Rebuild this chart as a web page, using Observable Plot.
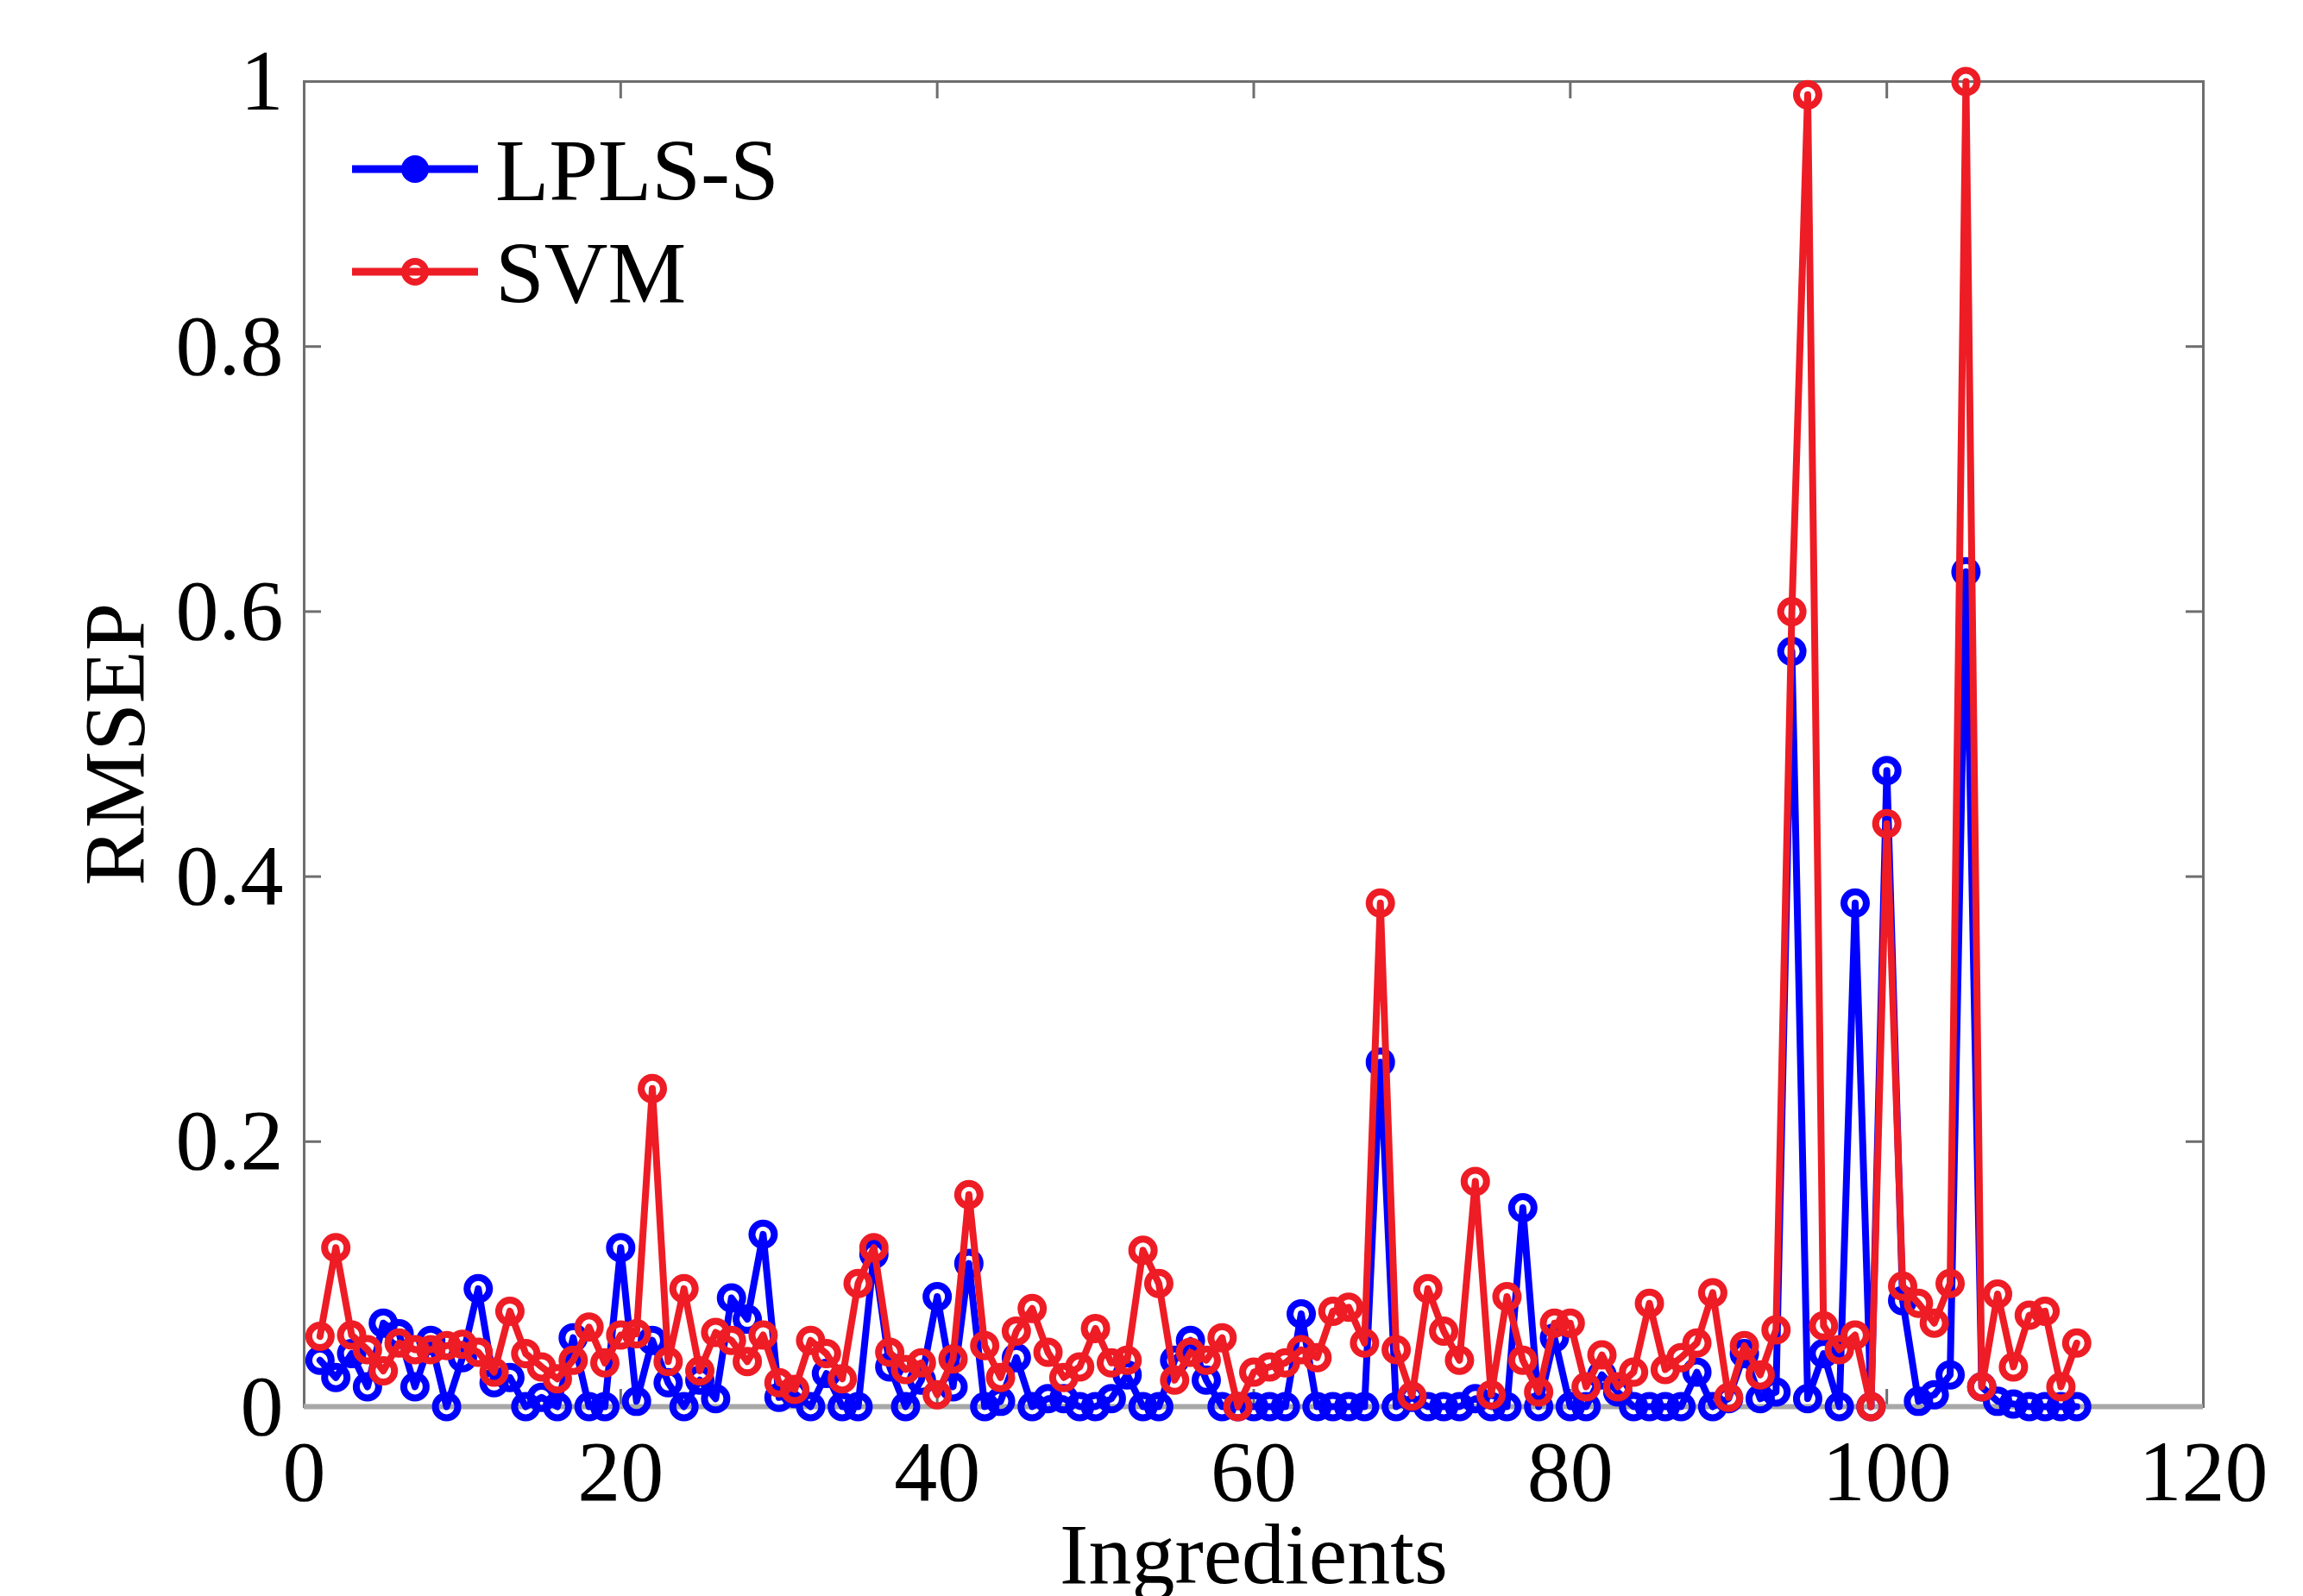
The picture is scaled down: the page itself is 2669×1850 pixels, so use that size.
<!DOCTYPE html>
<html><head><meta charset="utf-8">
<script src="https://cdn.jsdelivr.net/npm/d3@7"></script>
<script src="https://cdn.jsdelivr.net/npm/@observablehq/plot@0.6"></script>
<style>
html,body{margin:0;padding:0;background:#fff;}
#wrap{position:relative;width:2669px;height:1850px;overflow:hidden;background:#fff;}
#legend{position:absolute;left:0;top:0;}
</style></head><body><div id="wrap"></div>
<script>
const seriesNames = ["LPLS-S", "SVM"];
const seriesColors = ["#0000ff", "#ee1c25"];

const lplsS = [0.035,0.022,0.04,0.015,0.063,0.055,0.015,0.05,0.0,0.037,
  0.089,0.018,0.022,0.0,0.007,0.0,0.052,0.0,0.0,0.12,
  0.004,0.05,0.018,0.0,0.02,0.006,0.082,0.066,0.13,0.007,
  0.01,0.0,0.025,0.0,0.0,0.115,0.03,0.0,0.02,0.083,
  0.015,0.108,0.0,0.004,0.037,0.0,0.006,0.006,0.0,0.0,
  0.006,0.024,0.0,0.0,0.035,0.05,0.02,0.0,0.0,0.0,
  0.0,0.0,0.07,0.0,0.0,0.0,0.0,0.26,0.0,0.007,
  0.0,0.0,0.0,0.006,0.0,0.0,0.15,0.0,0.052,0.0,
  0.0,0.024,0.011,0.0,0.0,0.0,0.0,0.026,0.0,0.006,
  0.04,0.006,0.011,0.57,0.006,0.04,0.0,0.38,0.0,0.48,
  0.08,0.004,0.009,0.024,0.63,0.015,0.004,0.002,0.0,0.0,
  0.0,0.0];

const svm = [0.053,0.12,0.054,0.043,0.027,0.048,0.043,0.043,0.046,0.047,
  0.041,0.026,0.072,0.04,0.03,0.021,0.035,0.06,0.033,0.054,
  0.055,0.24,0.034,0.089,0.027,0.056,0.05,0.034,0.054,0.018,
  0.013,0.05,0.04,0.021,0.093,0.12,0.041,0.028,0.033,0.009,
  0.036,0.16,0.046,0.022,0.057,0.074,0.041,0.022,0.03,0.059,
  0.033,0.035,0.118,0.093,0.02,0.041,0.035,0.052,0.0,0.026,
  0.03,0.033,0.043,0.037,0.072,0.075,0.048,0.38,0.043,0.008,
  0.089,0.057,0.035,0.17,0.009,0.083,0.035,0.011,0.063,0.063,
  0.015,0.039,0.015,0.026,0.078,0.028,0.037,0.048,0.086,0.007,
  0.046,0.024,0.058,0.6,0.99,0.061,0.043,0.054,0.0,0.44,
  0.091,0.078,0.063,0.093,1.0,0.015,0.085,0.03,0.069,0.072,
  0.015,0.048];

const xTicks = [0, 20, 40, 60, 80, 100, 120];
const xTickLabels = ["0", "20", "40", "60", "80", "100", "120"];
const yTicks = [0, 0.2, 0.4, 0.6, 0.8, 1];
const yTickLabels = ["0", "0.2", "0.4", "0.6", "0.8", "1"];
const xLabel = "Ingredients";
const yLabel = "RMSEP";

const W = 2669, H = 1850, mL = 352, mR = 116, mT = 94, mB = 220;
const frameW = W - mL - mR, frameH = H - mT - mB;
const tickLen = 20;
const axisGray = "#6e6e6e";
const font = "'Liberation Serif','Times New Roman',serif";

const blueRows = lplsS.map((v, i) => ({series: seriesNames[0], x: i + 1, y: v}));
const redRows = svm.map((v, i) => ({series: seriesNames[1], x: i + 1, y: v}));

const chart = Plot.plot({
  width: W, height: H,
  marginLeft: mL, marginRight: mR, marginTop: mT, marginBottom: mB,
  style: {fontFamily: font, fontSize: "100px", color: "#000", background: "#fff"},
  x: {domain: [0, 120]},
  y: {domain: [0, 1]},
  color: {domain: seriesNames, range: seriesColors},
  marks: [
    Plot.frame({stroke: axisGray, strokeWidth: 3}),
    Plot.tickX(xTicks, {x: d => d, stroke: axisGray, strokeWidth: 3, insetTop: frameH - tickLen}),
    Plot.tickX(xTicks, {x: d => d, stroke: axisGray, strokeWidth: 3, insetBottom: frameH - tickLen}),
    Plot.tickY(yTicks, {y: d => d, stroke: axisGray, strokeWidth: 3, insetRight: frameW - tickLen}),
    Plot.tickY(yTicks, {y: d => d, stroke: axisGray, strokeWidth: 3, insetLeft: frameW - tickLen}),
    Plot.ruleY([0], {stroke: "#a8a8a8", strokeWidth: 6}),
    Plot.axisX({ticks: xTicks, tickFormat: d => xTickLabels[xTicks.indexOf(d)], tickSize: 0, tickPadding: 37,
      label: xLabel, labelAnchor: "center", labelOffset: 204, labelArrow: "none"}),
    Plot.axisY({ticks: yTicks, tickFormat: d => yTickLabels[yTicks.indexOf(d)], tickSize: 0, tickPadding: 24,
      label: yLabel, labelAnchor: "center", labelOffset: 258, labelArrow: "none"}),
    Plot.line(blueRows, {x: "x", y: "y", stroke: "series", strokeWidth: 8}),
    Plot.dot(blueRows, {x: "x", y: "y", stroke: "series", r: 13, strokeWidth: 8, fill: "none"}),
    Plot.line(redRows, {x: "x", y: "y", stroke: "series", strokeWidth: 8}),
    Plot.dot(redRows, {x: "x", y: "y", stroke: "series", r: 13, strokeWidth: 8, fill: "none"})
  ]
});

const wrap = document.getElementById("wrap");
wrap.appendChild(chart);

// Legend overlay (inside the plot frame, top-left)
const leg = d3.select(wrap).append("svg").attr("id", "legend")
  .attr("width", 1100).attr("height", 420);
const legRows = [{y: 196}, {y: 315}];
seriesNames.forEach((name, i) => {
  const g = leg.append("g").attr("transform", `translate(0,${legRows[i].y})`);
  g.append("line").attr("x1", 408).attr("x2", 554).attr("y1", 0).attr("y2", 0)
    .attr("stroke", seriesColors[i]).attr("stroke-width", 9);
  g.append("circle").attr("cx", 481).attr("cy", 0).attr("r", 12)
    .attr("fill", i === 0 ? seriesColors[i] : "none")
    .attr("stroke", seriesColors[i]).attr("stroke-width", 8);
  g.append("text").attr("x", 574).attr("y", 0).attr("dy", "0.35em")
    .attr("font-family", font).attr("font-size", 102).attr("fill", "#000")
    .text(name);
});
</script></body></html>
